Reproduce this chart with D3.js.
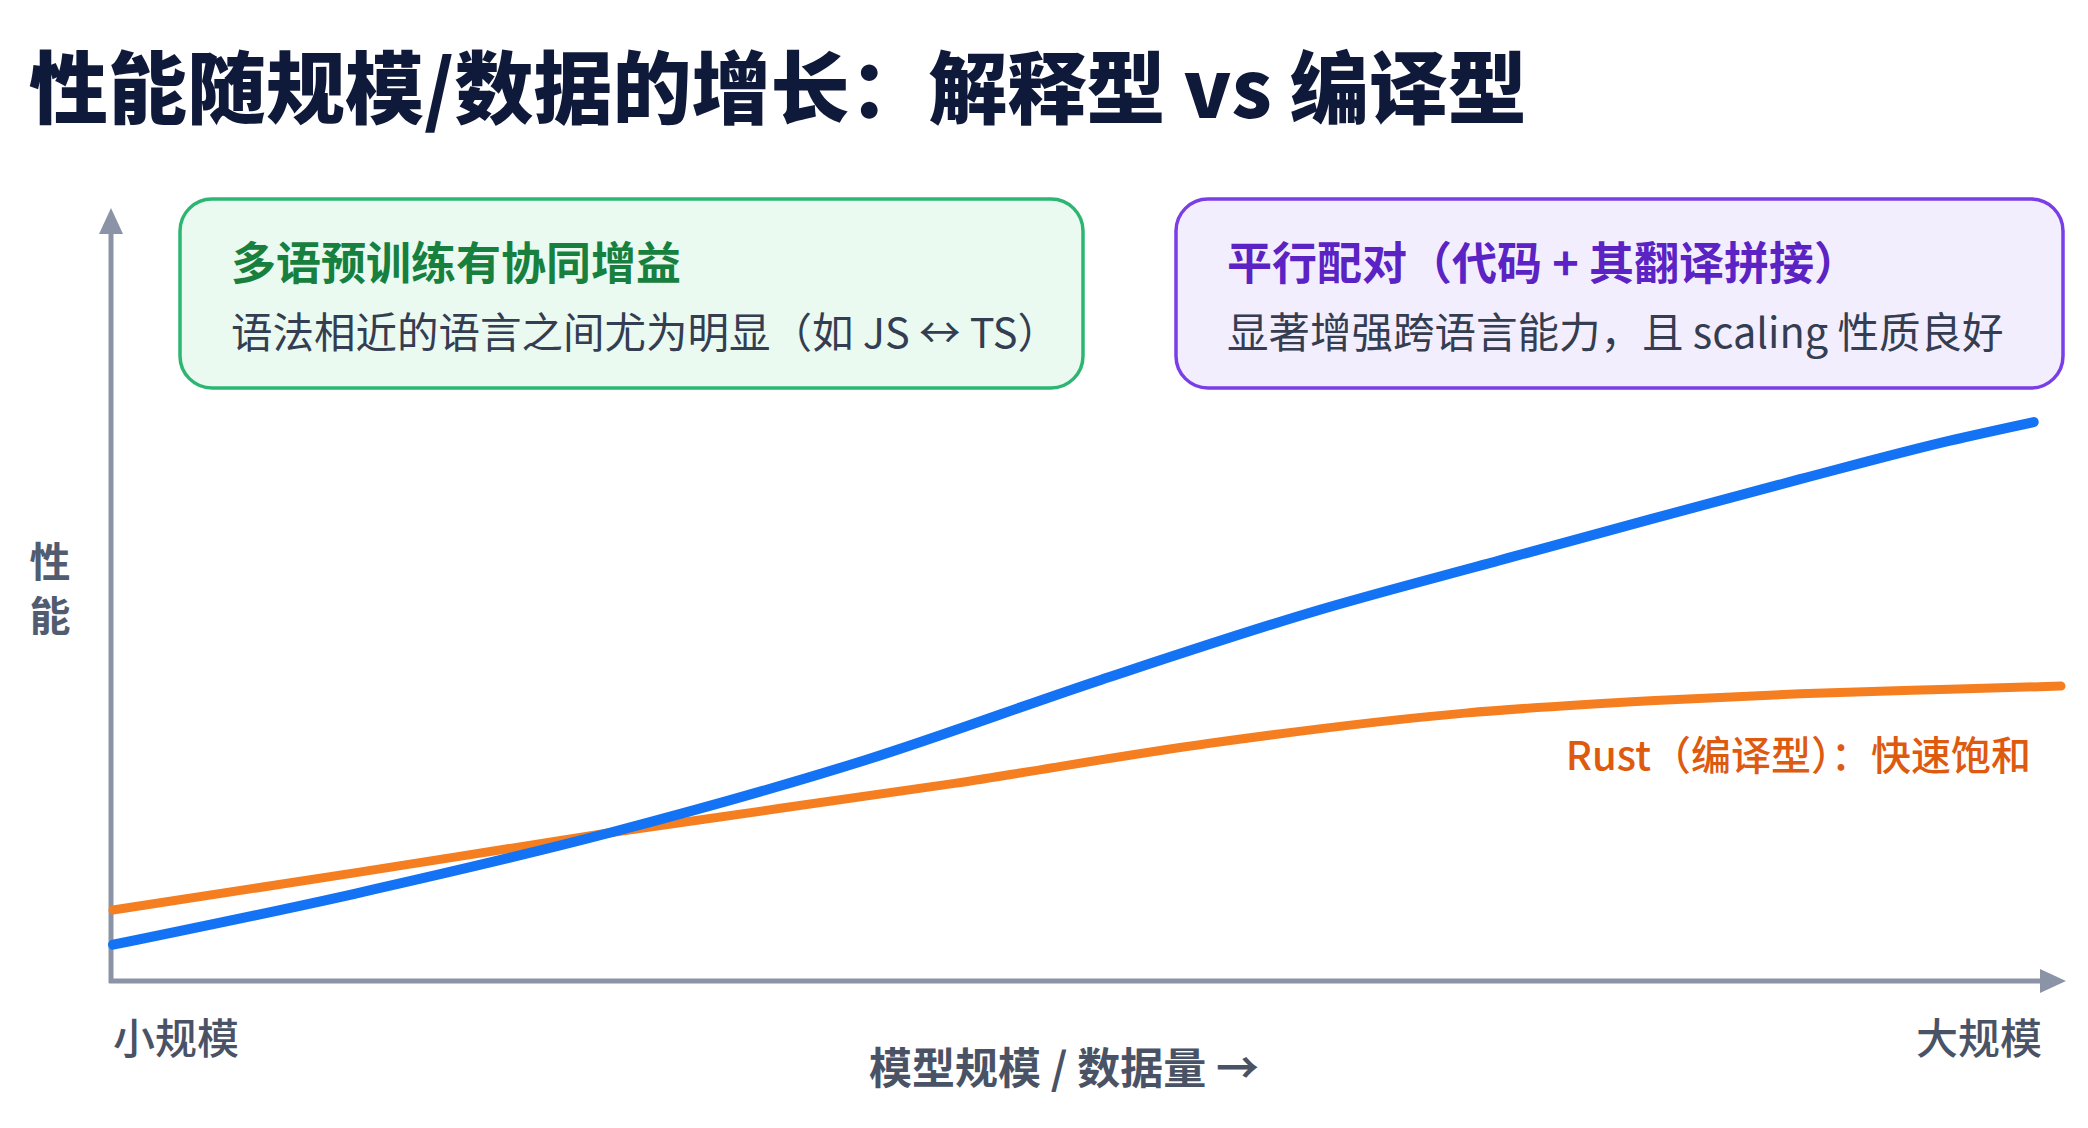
<!DOCTYPE html>
<html>
<head>
<meta charset="utf-8">
<script src="https://cdn.jsdelivr.net/npm/d3@7"></script>
<style>
  html, body { margin: 0; padding: 0; background: #ffffff; }
  svg { display: block; }
  text { font-family: "Noto Sans CJK SC", "Noto Sans", sans-serif; }
</style>
</head>
<body>
<script>
// ---------- data ----------
const titleText = "性能随规模/数据的增长：解释型 vs 编译型";
const yAxisLabel = "性能";
const xTickLabels = ["小规模", "大规模"];
const xAxisTitle = "模型规模 / 数据量 →";

// model scale (0 = small, 100 = large), performance (0..100)
const blueX   = [0, 12.4, 25.5, 38.6, 50.7, 61.7, 71.2, 78.9, 86.6, 94.3, 98.6];
const blueY   = [4.7, 11.3, 19.2, 28.6, 39.0, 47.9, 54.5, 59.8, 65.0, 70.0, 72.4];
const orangeX = [0, 12.4, 25.5, 43.2, 56.3, 69.4, 78.9, 86.6, 94.3, 100];
const orangeY = [9.2, 14.0, 19.2, 25.6, 30.8, 34.7, 36.3, 37.2, 37.8, 38.2];
const orangeLabel = "Rust（编译型）：快速饱和";

const boxTitles = ["多语预训练有协同增益", "平行配对（代码 + 其翻译拼接）"];
const boxSubtitles = ["语法相近的语言之间尤为明显（如 JS ↔ TS）", "显著增强跨语言能力，且 scaling 性质良好"];

// ---------- layout ----------
const W = 2088, H = 1128;
const svg = d3.select("body").append("svg").attr("width", W).attr("height", H);
svg.append("rect").attr("width", W).attr("height", H).attr("fill", "#ffffff");

const x = d3.scaleLinear().domain([0, 100]).range([113, 2061]);
const y = d3.scaleLinear().domain([0, 100]).range([981, 209]);

// title
svg.append("text")
  .attr("x", 29).attr("y", 83)
  .attr("dominant-baseline", "central")
  .attr("font-size", 79).attr("font-weight", 900)
  .attr("fill", "#0f1a3a")
  .text(titleText);

// annotation boxes
const boxes = [
  {x0: 180, x1: 1083, fill: "#eafaf0", stroke: "#2db672", tcolor: "#17803e"},
  {x0: 1176, x1: 2063, fill: "#f3eefd", stroke: "#7a3ee6", tcolor: "#5b22c4"}
];
boxes.forEach((b, i) => {
  svg.append("rect")
    .attr("x", b.x0).attr("y", 199).attr("width", b.x1 - b.x0).attr("height", 189)
    .attr("rx", 32).attr("ry", 32)
    .attr("fill", b.fill).attr("stroke", b.stroke).attr("stroke-width", 3.5);
  svg.append("text")
    .attr("x", b.x0 + 51).attr("y", 260)
    .attr("dominant-baseline", "central")
    .attr("font-size", 45).attr("font-weight", 700)
    .attr("fill", b.tcolor)
    .text(boxTitles[i]);
  svg.append("text")
    .attr("x", b.x0 + 51).attr("y", 330)
    .attr("dominant-baseline", "central")
    .attr("font-size", 41.5).attr("font-weight", 400)
    .attr("fill", "#343d52")
    .text(boxSubtitles[i]);
});

// axes
const axisColor = "#8b94a6";
const x0 = x(0) - 2, yBase = y(0);
svg.append("line").attr("x1", x0).attr("y1", yBase + 2).attr("x2", x0).attr("y2", 228)
  .attr("stroke", axisColor).attr("stroke-width", 5);
svg.append("path").attr("d", `M${x0},208 L${x0 - 12},234 L${x0 + 12},234 Z`).attr("fill", axisColor);
svg.append("line").attr("x1", x0 - 2).attr("y1", yBase).attr("x2", 2042).attr("y2", yBase)
  .attr("stroke", axisColor).attr("stroke-width", 5);
svg.append("path").attr("d", `M2066,${yBase} L2040,${yBase - 12} L2040,${yBase + 12} Z`).attr("fill", axisColor);

// y-axis label (vertical writing)
svg.append("text")
  .attr("x", 50).attr("y", 595)
  .attr("text-anchor", "middle")
  .style("writing-mode", "vertical-rl")
  .style("text-orientation", "upright")
  .attr("letter-spacing", 13)
  .attr("font-size", 41).attr("font-weight", 700)
  .attr("fill", "#525c70")
  .text(yAxisLabel);

// x tick labels
svg.append("text").attr("x", 113).attr("y", 1035)
  .attr("dominant-baseline", "central").attr("font-size", 42).attr("font-weight", 500)
  .attr("fill", "#4a5365").text(xTickLabels[0]);
svg.append("text").attr("x", 2042).attr("y", 1035).attr("text-anchor", "end")
  .attr("dominant-baseline", "central").attr("font-size", 42).attr("font-weight", 500)
  .attr("fill", "#4a5365").text(xTickLabels[1]);
svg.append("text").attr("x", 1064).attr("y", 1065).attr("text-anchor", "middle")
  .attr("dominant-baseline", "central").attr("font-size", 43).attr("font-weight", 600)
  .attr("fill", "#4a5365").text(xAxisTitle);

// lines
const line = d3.line().x(d => x(d[0])).y(d => y(d[1])).curve(d3.curveMonotoneX);
const orangeData = orangeX.map((v, i) => [v, orangeY[i]]);
const blueData = blueX.map((v, i) => [v, blueY[i]]);
svg.append("path").datum(orangeData).attr("d", line)
  .attr("fill", "none").attr("stroke", "#f57f20").attr("stroke-width", 9).attr("stroke-linecap", "round");
svg.append("path").datum(blueData).attr("d", line)
  .attr("fill", "none").attr("stroke", "#1473f5").attr("stroke-width", 10).attr("stroke-linecap", "round");

// orange label
svg.append("text").attr("x", 2031).attr("y", 753).attr("text-anchor", "end")
  .attr("dominant-baseline", "central").attr("font-size", 40).attr("font-weight", 500)
  .attr("fill", "#de5a0e").text(orangeLabel);
</script>
</body>
</html>
